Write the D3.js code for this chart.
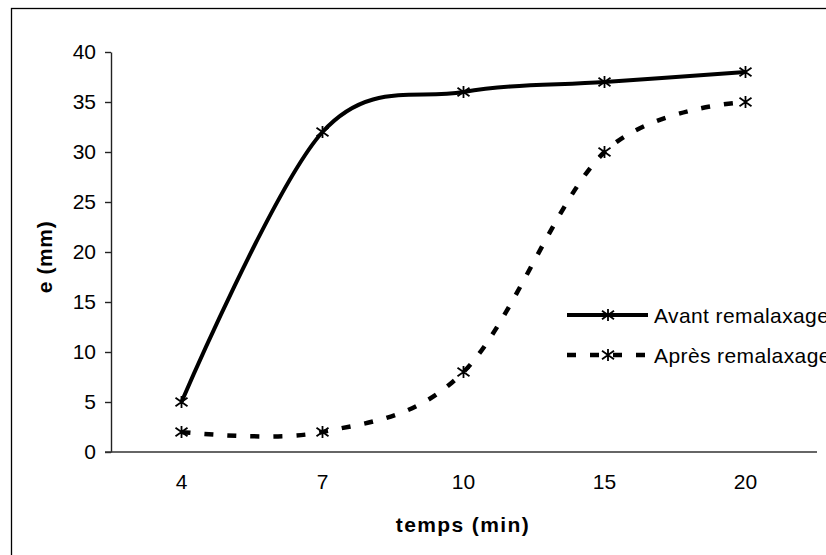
<!DOCTYPE html>
<html>
<head>
<meta charset="utf-8">
<script src="https://cdn.jsdelivr.net/npm/d3@7"></script>
<style>
  html, body { margin: 0; padding: 0; background: #fff; }
  svg { display: block; font-family: "Liberation Sans", Arial, sans-serif; }
</style>
</head>
<body>
<svg id="chart" width="826" height="555"></svg>
<script>
const categories = ["4", "7", "10", "15", "20"];
const avant = [5, 32, 36, 37, 38];
const apres = [2, 2, 8, 30, 35];
const yTicks = [0, 5, 10, 15, 20, 25, 30, 35, 40];
const seriesNames = ["Avant remalaxage", "Après remalaxage"];

const svg = d3.select("#chart");

// outer frame
svg.append("rect")
  .attr("x", 11.5).attr("y", 8.5)
  .attr("width", 830).attr("height", 560)
  .attr("fill", "#fff").attr("stroke", "#000").attr("stroke-width", 1.3);

const x = d3.scaleBand().domain(categories).range([111, 816]).padding(0);
const y = d3.scaleLinear().domain([0, 40]).range([452, 52]);
const cx = c => x(c) + x.bandwidth() / 2;

// y axis
const yAxis = svg.append("g").attr("transform", "translate(111,0)")
  .call(d3.axisLeft(y).tickValues(yTicks).tickSize(6).tickPadding(9).tickSizeOuter(0));
yAxis.select(".domain").attr("stroke", "#222").attr("stroke-width", 1.4);
yAxis.selectAll(".tick line").attr("stroke", "#222").attr("stroke-width", 1.4);
yAxis.selectAll(".tick text").attr("font-size", 21).attr("fill", "#000")
  .attr("font-family", "Liberation Sans, Arial, sans-serif");

// x axis
const xAxis = svg.append("g").attr("transform", "translate(0,452)")
  .call(d3.axisBottom(x).tickSize(0).tickPadding(22).tickSizeOuter(0));
xAxis.select(".domain").remove();
xAxis.append("line").attr("x1", 105).attr("x2", 817).attr("y1", 0).attr("y2", 0)
  .attr("stroke", "#333").attr("stroke-width", 1.6);
xAxis.selectAll(".tick text").attr("font-size", 21).attr("fill", "#000")
  .attr("font-family", "Liberation Sans, Arial, sans-serif");

// axis titles
svg.append("text")
  .attr("x", 463).attr("y", 532)
  .attr("text-anchor", "middle")
  .attr("font-size", 21).attr("font-weight", "bold")
  .attr("letter-spacing", 1.4)
  .text("temps (min)");

svg.append("text")
  .attr("transform", "translate(52,257) rotate(-90)")
  .attr("text-anchor", "middle")
  .attr("font-size", 21).attr("font-weight", "bold")
  .attr("letter-spacing", 0.6)
  .text("e (mm)");

// lines
const line = d3.line()
  .x((d, i) => cx(categories[i]))
  .y(d => y(d))
  .curve(d3.curveCardinal.tension(0));

svg.append("path").datum(avant)
  .attr("d", line).attr("fill", "none")
  .attr("stroke", "#000").attr("stroke-width", 4).attr("stroke-linejoin", "round");

svg.append("path").datum(apres)
  .attr("d", line).attr("fill", "none")
  .attr("stroke", "#000").attr("stroke-width", 4.5)
  .attr("stroke-dasharray", "9,14");

// star markers
function star(g, px, py) {
  const r = 6;
  const p = `M${px},${py - r}L${px},${py + r}` +
            `M${px - r},${py - r * 0.7}L${px + r},${py + r * 0.7}` +
            `M${px - r},${py + r * 0.7}L${px + r},${py - r * 0.7}`;
  g.append("path").attr("d", p).attr("stroke", "#000").attr("stroke-width", 1.8).attr("fill", "none");
}
const mk = svg.append("g");
avant.forEach((v, i) => star(mk, cx(categories[i]), y(v)));
apres.forEach((v, i) => star(mk, cx(categories[i]), y(v)));

// legend
const legend = svg.append("g");
const legY = [315, 355];
legY.forEach((ly, i) => {
  const l = legend.append("line")
    .attr("x1", 567).attr("x2", 648).attr("y1", ly).attr("y2", ly)
    .attr("stroke", "#000").attr("stroke-width", i === 0 ? 4 : 4.5);
  if (i === 1) l.attr("stroke-dasharray", "9,14");
  star(legend, 608, ly);
  legend.append("text")
    .attr("x", 654).attr("y", ly + 7.5)
    .attr("font-size", 21).attr("letter-spacing", 0.4)
    .text(seriesNames[i]);
});
</script>
</body>
</html>
